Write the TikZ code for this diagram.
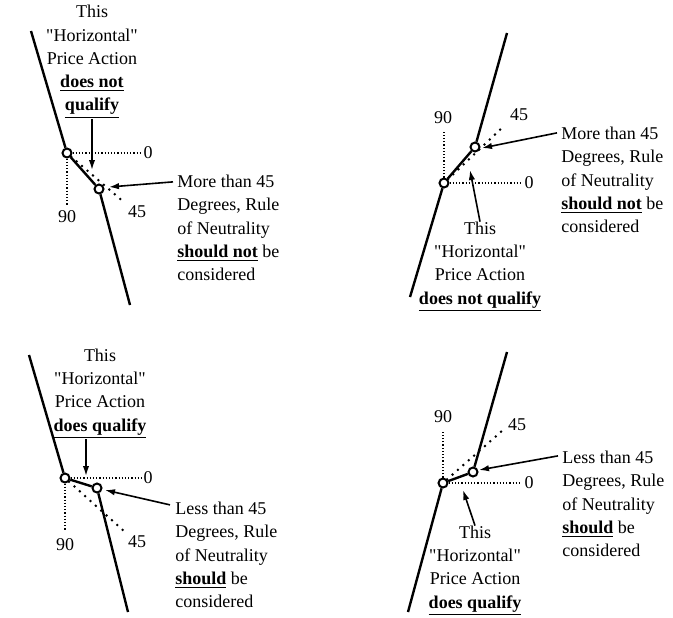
\documentclass[tikz,border=0pt]{standalone}
\usepackage{fontspec}
\setmainfont{Liberation Serif}
\usetikzlibrary{arrows.meta}

\begin{document}
\begin{tikzpicture}[x=0.5pt,y=-0.5pt,font=\fontsize{9}{11.6}\selectfont]
      \useasboundingbox (0,0) rectangle (673,617);

      % Ends of the trend lines and guides
      \coordinate (a0) at (31,31);
      \coordinate (a3) at (130,305);
      \coordinate (ah) at (142,153);
      \coordinate (av) at (67,205);
      \coordinate (ad) at (125,203);
      \coordinate (ap1) at (92,170);
      \coordinate (ap2) at (109,187);

      \coordinate (b0) at (507,33);
      \coordinate (b3) at (410,297);
      \coordinate (bh) at (520,183);
      \coordinate (bv) at (444,130);
      \coordinate (bd) at (504,126);
      \coordinate (bp1) at (470,170);
      \coordinate (bp2) at (482,148);

      \coordinate (c0) at (29,355);
      \coordinate (c3) at (128,612);
      \coordinate (ch) at (142,478);
      \coordinate (cv) at (65,530);
      \coordinate (cd) at (125,532);
      \coordinate (cp1) at (86,476);
      \coordinate (cp2) at (105,490);

      \coordinate (d0) at (507,352);
      \coordinate (d3) at (408,612);
      \coordinate (dh) at (520,483);
      \coordinate (dv) at (443,430);
      \coordinate (dd) at (503,430);
      \coordinate (dp1) at (463,490);
      \coordinate (dp2) at (479,470);

      % Nodes
      \begin{scope}[every node/.style={circle,line width=1pt,draw,fill=white,inner sep=0pt,minimum size=4.5pt}]
        \node (a1) at (67,153) {};
        \node (a2) at (99,189) {};

        \node (b1) at (444,183) {};
        \node (b2) at (475,147) {};

        \node (c1) at (65,478) {};
        \node (c2) at (97,488) {};

        \node (d1) at (443,483) {};
        \node (d2) at (473,472) {};
      \end{scope}

      % Degree marks
      \begin{scope}[every node/.style={inner sep=0pt}]
        \node (a0lab) at (148,153) {0};
        \node (a90lab) at (67,217) {90};
        \node (a45lab) at (137,212) {45};

        \node (b0lab) at (529,183) {0};
        \node (b90lab) at (443,118) {90};
        \node (b45lab) at (519,115) {45};

        \node (c0lab) at (148,478) {0};
        \node (c90lab) at (65,545) {90};
        \node (c45lab) at (137,542) {45};

        \node (d0lab) at (529,483) {0};
        \node (d90lab) at (443,417) {90};
        \node (d45lab) at (517,425) {45};
      \end{scope}

      % Notes
      \begin{scope}[every node/.style={inner sep=0pt}]
        \node[align=center] (atop) at (92,62) {This\\\textquotedbl Horizontal\textquotedbl\\Price Action\\\textbf{\underline{does not}}\\\textbf{\underline{qualify}}};
        \node[align=left,anchor=west] (anote) at (177,228) {More than 45\\Degrees, Rule\\of Neutrality\\\textbf{\underline{should not}} be\\considered};

        \node[align=left,anchor=west] (bnote) at (561,180) {More than 45\\Degrees, Rule\\of Neutrality\\\textbf{\underline{should not}} be\\considered};
        \node[align=center] (bcap) at (480,267) {This\\\textquotedbl Horizontal\textquotedbl\\Price Action\\\textbf{\underline{does not qualify}}};

        \node[align=center] (ctop) at (100,394) {This\\\textquotedbl Horizontal\textquotedbl\\Price Action\\\textbf{\underline{does qualify}}};
        \node[align=left,anchor=west] (cnote) at (175,555) {Less than 45\\Degrees, Rule\\of Neutrality\\\textbf{\underline{should}} be\\considered};

        \node[align=left,anchor=west] (dnote) at (562,504) {Less than 45\\Degrees, Rule\\of Neutrality\\\textbf{\underline{should}} be\\considered};
        \node[align=center] (dcap) at (475,571) {This\\\textquotedbl Horizontal\textquotedbl\\Price Action\\\textbf{\underline{does qualify}}};
      \end{scope}

      % Trend lines
      \begin{scope}[every edge/.style={draw,line width=1.2pt}]
        \path (a0) edge (a1);
        \path (a1) edge (a2);
        \path (a2) edge (a3);

        \path (b0) edge (b2);
        \path (b2) edge (b1);
        \path (b1) edge (b3);

        \path (c0) edge (c1);
        \path (c1) edge (c2);
        \path (c2) edge (c3);

        \path (d0) edge (d2);
        \path (d2) edge (d1);
        \path (d1) edge (d3);
      \end{scope}

      % Guides
      \begin{scope}[every edge/.style={draw,densely dotted,line width=0.6pt}]
        \path (a1) edge (ah);
        \path (a1) edge (av);
        \path (b1) edge (bh);
        \path (b1) edge (bv);
        \path (c1) edge (ch);
        \path (c1) edge (cv);
        \path (d1) edge (dh);
        \path (d1) edge (dv);
      \end{scope}
      \begin{scope}[every edge/.style={draw,line width=1.4pt,line cap=round,dash pattern=on 0pt off 3.6pt}]
        \path (a1) edge (ad);
        \path (b1) edge (bd);
        \path (c1) edge (cd);
        \path (d1) edge (dd);
      \end{scope}

      % Pointers
      \begin{scope}[every edge/.style={draw,line width=0.8pt,-{Latex[length=5pt,width=3.2pt]}}]
        \path (atop.south) edge (ap1);
        \path ([xshift=-2pt,yshift=-3.5pt]anote.north west) edge (ap2);

        \path (bcap.north) edge (bp1);
        \path ([xshift=-2pt,yshift=-3pt]bnote.north west) edge (bp2);

        \path ([xshift=-7pt]ctop.south) edge (cp1);
        \path ([xshift=-2.5pt,yshift=-1.5pt]cnote.north west) edge (cp2);

        \path (dcap.north) edge (dp1);
        \path ([xshift=-2pt,yshift=-2.5pt]dnote.north west) edge (dp2);
      \end{scope}

    \end{tikzpicture}
\end{document}
